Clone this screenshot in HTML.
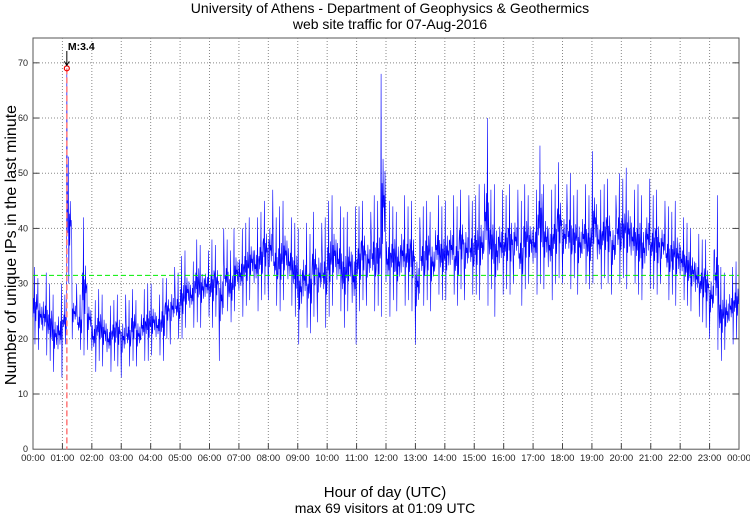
<!DOCTYPE html>
<html><head><meta charset="utf-8"><style>
body{margin:0;background:#fff;width:750px;height:515px;overflow:hidden}
svg{display:block;font-family:"Liberation Sans",sans-serif}
</style></head><body>
<svg id="c" width="750" height="515">
<text x="390" y="13" text-anchor="middle" font-size="14">University of Athens - Department of Geophysics &amp; Geothermics</text>
<text x="390" y="29" text-anchor="middle" font-size="14">web site traffic for 07-Aug-2016</text>
<text x="385" y="497" text-anchor="middle" font-size="15">Hour of day (UTC)</text>
<text x="385" y="513" text-anchor="middle" font-size="14">max 69 visitors at 01:09 UTC</text>
<text transform="translate(16,245) rotate(-90)" text-anchor="middle" font-size="16">Number of unique IPs in the last minute</text>
<g id="grid"></g><g id="series"></g><g id="over"></g>
</svg>
<script>
const hourLabels=["00:00","01:00","02:00","03:00","04:00","05:00","06:00","07:00","08:00","09:00","10:00","11:00","12:00","13:00","14:00","15:00","16:00","17:00","18:00","19:00","20:00","21:00","22:00","23:00","00:00"];
const yTicks=[0,10,20,30,40,50,60,70];
const binLo=[19,18,17,16,14,13, 19,30,20,18,17,18, 14,16,15,14,16,15, 13,15,16,15,16,16, 17,17,16,20,19,20, 20,22,22,23,22,24, 22,24,16,25,23,25, 24,26,27,25,27,28, 27,26,25,27,26,24, 19,22,21,24,23,22, 24,26,25,22,25,19, 25,27,26,25,26,24, 24,27,25,26,27,25, 19,26,27,25,28,27, 27,28,26,29,27,28, 28,27,26,29,24,28, 29,28,30,26,29,30, 28,30,29,27,30,31, 30,29,31,28,30,29, 30,29,31,30,28,30, 31,29,30,28,27,29, 29,28,30,27,28,26, 27,26,25,24,23,22, 20,18,16,18,19,20];
const binHi=[33,31,32,30,28,30, 28,53,30,28,42,30, 27,29,28,26,27,28, 28,27,29,27,29,30, 30,28,31,31,33,32, 35,36,34,38,37,36, 38,37,40,38,36,40, 40,41,42,42,43,45, 47,42,44,45,42,41, 40,41,39,43,41,42, 45,46,44,42,43,44, 44,45,43,46,45,68, 45,44,43,46,44,45, 42,44,45,43,46,44, 45,46,44,47,46,45, 46,48,60,47,48,47, 46,48,47,45,48,46, 47,55,48,47,48,52, 48,50,46,47,48,46, 54,47,48,49,46,50, 49,51,47,48,46,49, 46,47,45,44,43,45, 42,41,40,39,38,38, 36,46,33,32,33,34];
const peakMinute=69, peakValue=69, meanLevel=31.5;
const X0=33,X1=739,Y0=449.2,YT=38,YMAX=74.5;
const xs=m=>X0+(X1-X0)*m/1440, ys=v=>Y0-(Y0-YT)*v/YMAX;
const NS="http://www.w3.org/2000/svg";
function mk(t,a,p){const e=document.createElementNS(NS,t);for(const k in a)e.setAttribute(k,a[k]);p.appendChild(e);return e;}
const g=document.getElementById('grid');
mk('rect',{x:X0,y:YT,width:X1-X0,height:Y0-YT,fill:'none',stroke:'#555','stroke-width':1},g);
hourLabels.forEach((l,i)=>{const x=xs(i*60);
 if(i>0&&i<24){const gl=mk('line',{x1:x,x2:x,y1:YT,y2:Y0,stroke:'#888','stroke-dasharray':'1,2','stroke-width':1},g);
 
 mk('line',{x1:x,x2:x,y1:Y0,y2:Y0-6,stroke:'#444'},g);}
 const t=mk('text',{x:x,y:461,'text-anchor':'middle','font-size':9.5,fill:'#222'},g);t.textContent=l;
 });
yTicks.forEach(v=>{const y=ys(v);
 if(v>0){const gl=mk('line',{x1:X0,x2:X1,y1:y,y2:y,stroke:'#888','stroke-dasharray':'1,2'},g);
 
 mk('line',{x1:X0,x2:X0+6,y1:y,y2:y,stroke:'#444'},g);mk('line',{x1:X1,x2:X1-6,y1:y,y2:y,stroke:'#444'},g);}
 const t=mk('text',{x:28,y:y+3,'text-anchor':'end','font-size':9,fill:'#222'},g);t.textContent=v;
 });
const shape=[0.35,0.6,0.4,1.0,0.0,0.55,0.3,0.65,0.45,0.5];
let pts=[];
for(let b=0;b<binLo.length;b++){for(let k=0;k<10;k++){const m=b*10+k;
 let v=binLo[b]+(binHi[b]-binLo[b])*shape[(k+3*b)%10];
 if(m===peakMinute)v=peakValue;
 pts.push(xs(m).toFixed(2)+','+ys(v).toFixed(2));}}
const s=document.getElementById('series');
const pl=mk('polyline',{points:pts.join(' '),fill:'none',stroke:'#0000ff','stroke-width':0.6},s);

const o=document.getElementById('over');
const ml=mk('line',{x1:X0,x2:X1,y1:ys(meanLevel),y2:ys(meanLevel),stroke:'#00ee00','stroke-dasharray':'5,3','stroke-width':1},o);

const px=xs(peakMinute);
const ql=mk('line',{x1:px,x2:px,y1:ys(peakValue),y2:Y0,stroke:'#ff8080','stroke-dasharray':'6,3','stroke-width':1.6},o);

const c=mk('circle',{cx:px,cy:ys(peakValue),r:2.5,fill:'none',stroke:'#e00','stroke-width':1.2},o);

mk('line',{x1:px,x2:px,y1:51,y2:ys(peakValue)-3,stroke:'#000','stroke-width':1},o);
mk('path',{d:`M${px-2.5},${ys(peakValue)-7} L${px},${ys(peakValue)-3} L${px+2.5},${ys(peakValue)-7}`,fill:'none',stroke:'#000'},o);
const mt=mk('text',{x:px+1,y:50,'font-size':10.5,'font-weight':'bold'},o);mt.textContent='M:3.4';

</script>
</body></html>
